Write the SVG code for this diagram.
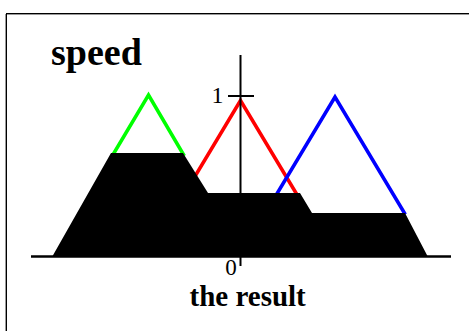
<svg xmlns="http://www.w3.org/2000/svg" width="469" height="331" viewBox="0 0 469 331">
<style>
.leg{fill:none;stroke-width:3.5;stroke-linejoin:miter;stroke-miterlimit:10}
.lbl{font-family:"Liberation Serif","Times New Roman",serif;fill:#000}
.title{font-weight:bold}
.ax{stroke:#000;stroke-width:2;fill:none}
</style>
<rect width="469" height="331" fill="#fff"/>
<g id="frame">
<line x1="5" y1="14.5" x2="469" y2="14.5" stroke="#999" stroke-width="1"/>
<line x1="5.5" y1="14" x2="5.5" y2="331" stroke="#999" stroke-width="1"/>
<line x1="6" y1="13.5" x2="469" y2="13.5" stroke="#000" stroke-width="1"/>
<line x1="6.5" y1="13" x2="6.5" y2="331" stroke="#000" stroke-width="1"/>
</g>
<g id="green-set"><polyline class="leg" stroke="#00ff00" points="112.2,156 148.5,95 184.3,156"/></g>
<g id="red-set"><polyline class="leg" stroke="#ff0000" points="183.2,196 240.5,100.5 297.8,196"/></g>
<g id="blue-set"><polyline class="leg" stroke="#0000ff" points="275.6,196 335,97 405.3,214.5"/></g>
<g id="axis">
<line class="ax" x1="240.5" y1="55" x2="240.5" y2="266"/>
<line class="ax" x1="228" y1="96" x2="254" y2="96"/>
</g>
<g id="result"><polygon fill="#000" points="52,257 111,153 183,153 208,193 300,193 312,213 405,213 428,257"/></g>
<g id="baseline"><line x1="31" y1="256.5" x2="451" y2="256.5" stroke="#000" stroke-width="2.5"/></g>
<g id="labels">
<text class="lbl title" x="51" y="65" font-size="38">speed</text>
<text class="lbl" x="217.5" y="103" font-size="24" text-anchor="middle">1</text>
<text class="lbl" x="231" y="275" font-size="23" text-anchor="middle">0</text>
<text class="lbl title" x="189.5" y="306" font-size="29">the result</text>
</g>
</svg>
